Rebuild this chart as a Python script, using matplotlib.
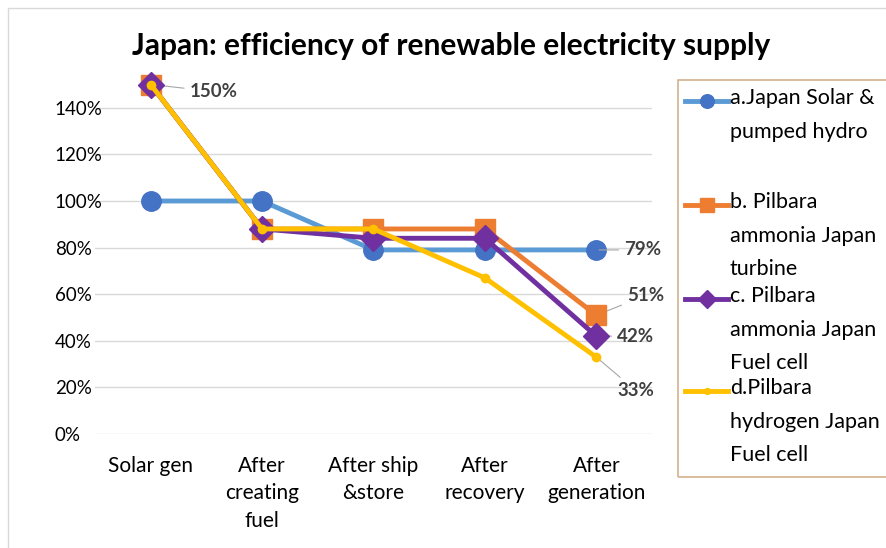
import matplotlib.pyplot as plt
from matplotlib.lines import Line2D
from matplotlib.patches import Rectangle
import numpy as np

plt.rcParams['font.family'] = ['Lato', 'DejaVu Sans']

categories = ['Solar gen', 'After\ncreating\nfuel', 'After ship\n&store', 'After\nrecovery', 'After\ngeneration']
series_names = ['a.Japan Solar &\npumped hydro',
                'b. Pilbara\nammonia Japan\nturbine',
                'c. Pilbara\nammonia Japan\nFuel cell',
                'd.Pilbara\nhydrogen Japan\nFuel cell']
a_vals = [100, 100, 79, 79, 79]
b_vals = [150, 88, 88, 88, 51]
c_vals = [150, 88, 84, 84, 42]
d_vals = [150, 88, 88, 67, 33]
yticks = [0, 20, 40, 60, 80, 100, 120, 140]

line_cols = ['#5B9BD5', '#ED7D31', '#7030A0', '#FFC000']
mark_cols = ['#4472C4', '#ED7D31', '#7030A0', '#FFC000']
markers = ['o', 's', 'D', 'o']
msizes = [14, 15, 13, 6]

W, H = 886, 548
fig = plt.figure(figsize=(W / 100, H / 100), dpi=100)
ax = fig.add_axes([95 / W, 1 - 434 / H, (652 - 95) / W, (434 - 84.5) / H])

x = np.arange(len(categories))
all_vals = [a_vals, b_vals, c_vals, d_vals]
for i, vals in enumerate(all_vals):
    ax.plot(x, vals, color=line_cols[i], lw=3.5, marker=markers[i], ms=msizes[i],
            mfc=mark_cols[i], mec=mark_cols[i], clip_on=False, zorder=3 + i,
            solid_joinstyle='round')

ax.set_xlim(-0.5, len(categories) - 0.5)
ax.set_ylim(0, 150)
ax.set_yticks(yticks)
ax.set_yticklabels([f'{v}%' for v in yticks], fontsize=13.5)
ax.set_xticks(x)
ax.set_xticklabels(categories, fontsize=15, linespacing=1.45, va='top')
ax.tick_params(length=0, pad=16, colors='#000000')
ax.tick_params(axis='y', pad=29)
for lbl in ax.get_yticklabels():
    lbl.set_horizontalalignment('left')
ax.grid(axis='y', color='#D9D9D9', lw=1)
ax.set_axisbelow(True)
for s in ax.spines.values():
    s.set_visible(False)

# data labels
lab_kw = dict(fontsize=13.5, fontweight='bold', color='#404040', va='center',
              arrowprops=dict(arrowstyle='-', color='#A6A6A6', lw=0.8))
ax.annotate(f'{d_vals[0]}%', xy=(0, d_vals[0]), xytext=(28, -5), textcoords='offset points', **lab_kw)
ax.annotate(f'{a_vals[-1]}%', xy=(4, a_vals[-1]), xytext=(20, 0), textcoords='offset points', **lab_kw)
ax.annotate(f'{b_vals[-1]}%', xy=(4, b_vals[-1]), xytext=(22, 14), textcoords='offset points', **lab_kw)
ax.annotate(f'{c_vals[-1]}%', xy=(4, c_vals[-1]), xytext=(15, 0), textcoords='offset points', **lab_kw)
ax.annotate(f'{d_vals[-1]}%', xy=(4, d_vals[-1]), xytext=(15, -24), textcoords='offset points', **lab_kw)

fig.text(451 / W, 1 - 46 / H, 'Japan: efficiency of renewable electricity supply',
         ha='center', va='center', fontsize=21.5, fontweight='bold', color='#000000')

# chart border
fig.add_artist(Rectangle((8 / W, -0.1), 1.2, 1 - 8 / H + 0.1, transform=fig.transFigure,
                         fill=False, ec='#D9D9D9', lw=1))

# legend
fig.add_artist(Rectangle((678 / W, 1 - 477 / H), 0.5, (477 - 80) / H, transform=fig.transFigure,
                         fill=False, ec='#D4B08C', lw=1.2))
leg_y = [101, 205, 299, 391]
for i, name in enumerate(series_names):
    yy = 1 - leg_y[i] / H
    fig.add_artist(Line2D([685 / W, 728 / W], [yy, yy], transform=fig.transFigure,
                          color=line_cols[i], lw=3.5))
    fig.add_artist(Line2D([707 / W], [yy], transform=fig.transFigure, marker=markers[i],
                          ms=msizes[i] * 0.7, color=mark_cols[i]))
    fig.text(730 / W, yy + 13 / H, name, ha='left', va='top', fontsize=15.5,
             linespacing=1.85, color='#000000')

fig.savefig('out.png', dpi=100)
